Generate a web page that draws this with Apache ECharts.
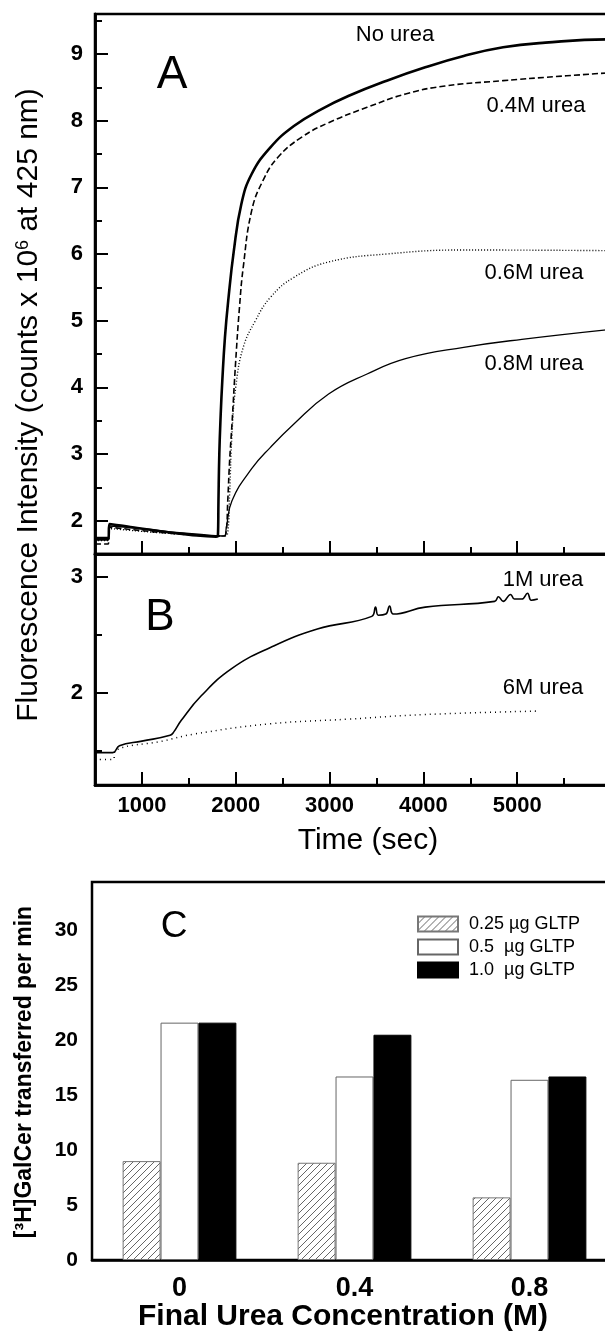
<!DOCTYPE html>
<html><head><meta charset="utf-8">
<script src="https://cdn.jsdelivr.net/npm/echarts@6/dist/echarts.min.js"></script>
<style>html,body{margin:0;padding:0;overflow:hidden;background:#fff;width:605px;height:1337px}
#c{width:620px;height:1337px}</style></head>
<body><div id="c"></div>
<script>
const FONT = '"Liberation Sans", Arial, Helvetica, sans-serif';

// ---- Panel A: fluorescence vs time [sec, counts x 10^6]
const noUrea = [[500,1.72],[640,1.72],[655,1.95],[900,1.9],[1200,1.84],[1500,1.79],[1790,1.76],[1810,1.77],[1816,2.3],[1825,3.0],[1840,3.6],[1857,4.1],[1885,4.75],[1920,5.3],[1980,6.05],[2060,6.75],[2170,7.2],[2370,7.6],[2620,7.92],[2910,8.17],[3200,8.37],[3610,8.6],[4020,8.8],[4430,8.97],[4850,9.1],[5300,9.17],[5950,9.22],[6000,9.22]];
const urea04 = [[500,1.65],[640,1.65],[655,1.9],[1000,1.85],[1400,1.8],[1850,1.77],[1895,1.8],[1915,2.3],[1935,2.9],[1960,3.45],[2000,4.4],[2040,5.2],[2080,5.8],[2170,6.65],[2290,7.1],[2450,7.45],[2700,7.75],[2990,7.97],[3400,8.2],[3810,8.4],[4230,8.52],[4850,8.6],[5400,8.66],[6000,8.72]];
const urea06 = [[500,1.7],[640,1.7],[655,1.88],[1000,1.84],[1400,1.8],[1880,1.77],[1915,1.82],[1935,2.4],[1960,3.3],[2000,4.0],[2080,4.6],[2210,5.0],[2370,5.35],[2620,5.65],[2990,5.88],[3610,6.0],[4430,6.06],[6000,6.05]];
const urea08 = [[500,1.75],[640,1.75],[655,1.92],[1000,1.88],[1400,1.82],[1880,1.77],[1900,1.9],[1960,2.3],[2170,2.78],[2370,3.1],[2620,3.45],[2990,3.9],[3400,4.2],[3810,4.43],[4430,4.6],[5050,4.72],[6000,4.87]];
// ---- Panel B
const urea1M = [[500,1.48],[690,1.48],[760,1.54],[1000,1.58],[1300,1.63],[1340,1.66],[1420,1.76],[1630,1.97],[1960,2.21],[2370,2.39],[2870,2.55],[3450,2.66],[3490,2.74],[3520,2.67],[3600,2.68],[3640,2.75],[3680,2.68],[4020,2.74],[4760,2.79],[4800,2.83],[4850,2.79],[4930,2.85],[4970,2.81],[5050,2.81],[5110,2.86],[5150,2.8],[5220,2.81]];
const urea6M = [[500,1.42],[690,1.42],[720,1.5],[1220,1.58],[1550,1.64],[2370,1.73],[3200,1.77],[4020,1.81],[5220,1.84]];
// ---- Panel C
const ureaConc = ['0','0.4','0.8'];
const legendNames = ['0.25 µg GLTP','0.5  µg GLTP','1.0  µg GLTP'];
const gltp025 = [9.0, 8.85, 5.7];
const gltp05 = [21.6, 16.7, 16.4];
const gltp10 = [21.6, 20.5, 16.7];

function hatch(){
  const c=document.createElement('canvas'); c.width=7; c.height=7;
  const g=c.getContext('2d'); g.fillStyle='#fff'; g.fillRect(0,0,7,7);
  g.strokeStyle='#555'; g.lineWidth=0.9;
  g.beginPath(); g.moveTo(0,7); g.lineTo(7,0); g.moveTo(-1,1); g.lineTo(1,-1); g.moveTo(6,8); g.lineTo(8,6); g.stroke();
  return c;
}

const chart = echarts.init(document.getElementById('c'), null, {renderer:'canvas'});
const AX = {lineStyle:{color:'#000', width:2.5}};
const lab = {fontFamily:FONT, fontWeight:'bold', fontSize:22, color:'#000'};
function xv(grid, minorOnly, showLabels){
  const o = {type:'value', gridIndex:grid, min:500, max:6000, position:'bottom', axisLine:{onZero:false, ...AX}, splitLine:{show:false},
    axisTick:{inside:true, length: minorOnly?7:13, lineStyle:{color:'#000', width:2}},
    axisLabel: showLabels ? {...lab, margin:10, showMinLabel:false, showMaxLabel:false, formatter:v=>String(v)} : {show:false}};
  if (minorOnly) o.interval = 500; else o.splitNumber = 5;
  return o;
}
function yv(grid, min, max, opt, minorOnly){
  return Object.assign({type:'value', gridIndex:grid, min, max, position:'left', axisLine:{onZero:false, ...AX}, splitLine:{show:false},
    axisTick:{inside:true, length: minorOnly?7:13, lineStyle:{color:'#000', width:2}},
    axisLabel: minorOnly ? {show:false} : {...lab, margin:12, showMinLabel:false, showMaxLabel:false}}, opt);
}
const lineS = (data, xi, yi, w, type) => ({type:'line', data, xAxisIndex:xi, yAxisIndex:yi, showSymbol:false, symbol:'none',
  smooth:0.45, lineStyle:{color:'#000', width:w, type}, silent:true});
const txt = (text, x, y, size, weight, extra) => Object.assign({type:'text', x, y, silent:true,
  style:{text, font:(weight||'normal')+' '+size+'px '+FONT, fill:'#000', align:'center', verticalAlign:'middle'}}, extra||{});

const option = {
  animation:false,
  backgroundColor:'#fff',
  grid:[
    {left:95, top:14, width:516, height:540, show:true, borderColor:'#000', borderWidth:2.5, backgroundColor:'transparent'},
    {left:95, top:554, width:516, height:231, show:true, borderColor:'#000', borderWidth:2.5, backgroundColor:'transparent'},
    {left:92, top:882, width:525, height:378, show:true, borderColor:'#000', borderWidth:2.5, backgroundColor:'transparent'}
  ],
  xAxis:[
    xv(0,true,false), xv(0,false,false), xv(1,true,false), xv(1,false,true),
    {type:'category', gridIndex:2, data:ureaConc, position:'bottom', axisLine:{onZero:false, ...AX}, axisTick:{show:false},
     axisLabel:{fontFamily:FONT, fontWeight:'bold', fontSize:27, color:'#000', margin:15}}
  ],
  yAxis:[
    yv(0,1.5,9.6,{interval:0.5},true), yv(0,1.5,9.6,{splitNumber:8},false),
    yv(1,1.2,3.2,{splitNumber:4},true), yv(1,1.2,3.2,{splitNumber:2},false),
    yv(2,0,34.4,{interval:2.5},true), Object.assign(yv(2,0,34.4,{interval:5},false),{axisLabel:{...lab, fontSize:21, margin:14, showMaxLabel:false}})
  ],
  legend:{left:412, top:909, orient:'vertical', itemWidth:40, itemHeight:15, itemGap:3, icon:'rect', selectedMode:false,
    data:legendNames, textStyle:{fontFamily:FONT, fontSize:18, color:'#000', lineHeight:20, padding:[0,0,0,6]}},
  series:[
    lineS(noUrea,0,0,2.6,'solid'),
    lineS(urea04,0,0,1.6,[6,3]),
    lineS(urea06,0,0,1.4,[1,2]),
    lineS(urea08,0,0,1.3,'solid'),
    lineS(urea1M,2,2,1.6,'solid'),
    lineS(urea6M,2,2,1.5,[1,4]),
    {type:'bar', name:legendNames[0], data:gltp025, xAxisIndex:4, yAxisIndex:4, barGap:'0%', barCategoryGap:'35%',
      itemStyle:{color:{image:hatch(), repeat:'repeat'}, borderColor:'#777', borderWidth:1}},
    {type:'bar', name:legendNames[1], data:gltp05, xAxisIndex:4, yAxisIndex:4, barGap:'0%', barCategoryGap:'35%',
      itemStyle:{color:'#fff', borderColor:'#666', borderWidth:1}},
    {type:'bar', name:legendNames[2], data:gltp10, xAxisIndex:4, yAxisIndex:4, barGap:'0%', barCategoryGap:'35%',
      itemStyle:{color:'#000', borderColor:'#000', borderWidth:1}}
  ],
  graphic:[
    {type:'text', x:29, y:405, rotation:Math.PI/2, silent:true,
      style:{text:'{a|Fluorescence Intensity (counts x 10}{s|6}{a| at 425 nm)}', font:'30px '+FONT, fill:'#000', align:'center', verticalAlign:'middle',
        rich:{a:{fontSize:30, fontFamily:FONT, fill:'#000'}, s:{fontSize:18, fontFamily:FONT, fill:'#000', verticalAlign:'top'}}}},
    txt('[³H]GalCer transferred per min', 25, 1072, 23, 'bold', {rotation:Math.PI/2}),
    txt('Time (sec)', 368, 841, 30),
    txt('Final Urea Concentration (M)', 343, 1317, 30, 'bold'),
    txt('A', 172, 75, 46), txt('B', 160, 618, 44), txt('C', 174, 927, 37),
    txt('No urea', 395, 35, 22), txt('0.4M urea', 536, 106, 22), txt('0.6M urea', 534, 273, 22), txt('0.8M urea', 534, 364, 22),
    txt('1M urea', 543, 580, 22), txt('6M urea', 543, 688, 22)
  ]
};
chart.setOption(option);
</script></body></html>
